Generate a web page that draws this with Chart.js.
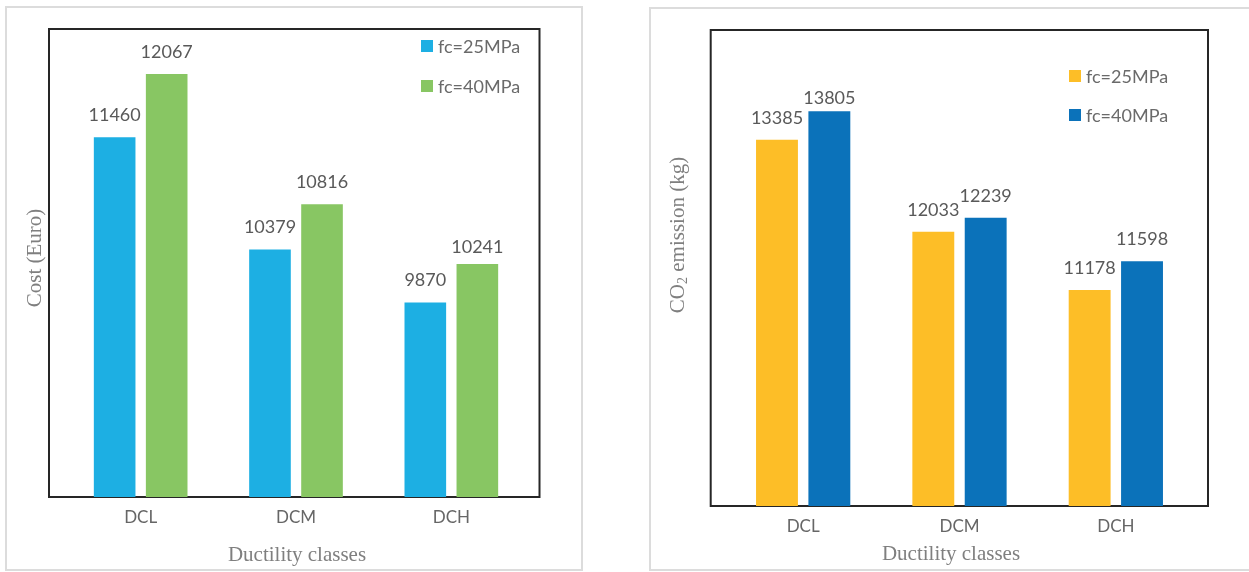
<!DOCTYPE html>
<html>
<head>
<meta charset="utf-8">
<script src="https://cdn.jsdelivr.net/npm/chart.js@4.4.1/dist/chart.umd.min.js"></script>
<style>
  html, body { margin: 0; padding: 0; background: #fff; }
  body { width: 1249px; height: 572px; position: relative; overflow: hidden; }
  .panel { position: absolute; border: 2px solid #dcdcdc; box-sizing: border-box; }
  #panelCost { left: 5px; top: 6px; width: 578px; height: 565px; }
  #panelCo2 { left: 649px; top: 7px; width: 620px; height: 564px; }
  canvas { position: absolute; top: 0; }
  #wrapCost { position: absolute; left: 0; top: 0; width: 620px; height: 572px; }
  #wrapCo2 { position: absolute; left: 630px; top: 0; width: 619px; height: 572px; }
</style>
</head>
<body>
<div class="panel" id="panelCost"></div>
<div class="panel" id="panelCo2"></div>
<div id="wrapCost"><canvas id="chartCost"></canvas></div>
<div id="wrapCo2"><canvas id="chartCo2"></canvas></div>

<script>
// categorias e valores
const classes = ['DCL', 'DCM', 'DCH'];
const seriesNames = ['fc=25MPa', 'fc=40MPa'];

const custo25 = [11460, 10379, 9870];
const custo40 = [12067, 10816, 10241];

const co2_25 = [13385, 12033, 11178];
const co2_40 = [13805, 12239, 11598];

const corTexto = '#595959';
const corTitulo = '#7f7f7f';
const fonteSans = 'Lato, "Open Sans", sans-serif';
const fonteSerif = '"Liberation Serif", "Times New Roman", serif';

// moldura preta do plot, um pouco maior que a área das categorias
const molduraPlugin = {
    id: 'moldura',
    beforeDatasetsDraw(chart, args, opts) {
        const a = chart.chartArea;
        const ctx = chart.ctx;
        ctx.save();
        ctx.strokeStyle = '#262626';
        ctx.lineWidth = 2;
        ctx.strokeRect(a.left - opts.esq, opts.topo, (a.right + opts.dir) - (a.left - opts.esq), a.bottom - opts.topo);
        ctx.restore();
    }
};

// rótulos de valor acima das barras (alguns ficam mais perto da barra)
const rotulosPlugin = {
    id: 'rotulos',
    afterDatasetsDraw(chart, args, opts) {
        const ctx = chart.ctx;
        const ajuste = opts.ajuste || {};
        ctx.save();
        ctx.font = '18px ' + fonteSans;
        ctx.fillStyle = corTexto;
        ctx.textAlign = 'center';
        ctx.textBaseline = 'middle';
        chart.data.datasets.forEach((ds, i) => {
            chart.getDatasetMeta(i).data.forEach((bar, j) => {
                const dy = 22 - (ajuste[i + '-' + j] || 0);
                ctx.fillText(String(ds.data[j]), bar.x, bar.y - dy);
            });
        });
        ctx.restore();
    }
};

// legenda dentro do plot + títulos dos eixos
const legendaPlugin = {
    id: 'legendaTitulos',
    afterDraw(chart, args, opts) {
        const ctx = chart.ctx;
        ctx.save();
        ctx.font = '18px ' + fonteSans;
        ctx.textBaseline = 'middle';
        ctx.textAlign = 'left';
        chart.data.datasets.forEach((ds, i) => {
            const y = opts.legY + i * opts.legPasso;
            ctx.fillStyle = ds.backgroundColor;
            ctx.fillRect(opts.legX, y - 6, 12, 12);
            ctx.fillStyle = '#6a6a6a';
            ctx.fillText(ds.label, opts.legX + 17, y + 1);
        });

        ctx.fillStyle = corTitulo;
        ctx.font = '21px ' + fonteSerif;
        ctx.textAlign = 'center';
        ctx.fillText(opts.tituloX, opts.xTitX, opts.xTitY);

        // título vertical, com subscrito opcional
        ctx.translate(opts.yTitX, opts.yTitY);
        ctx.rotate(-Math.PI / 2);
        const partes = opts.tituloY;
        let total = 0;
        partes.forEach(p => {
            ctx.font = (p.sub ? '14px ' : '21px ') + fonteSerif;
            total += ctx.measureText(p.t).width;
        });
        let x = -total / 2;
        ctx.textAlign = 'left';
        partes.forEach(p => {
            ctx.font = (p.sub ? '14px ' : '21px ') + fonteSerif;
            ctx.fillText(p.t, x, p.sub ? 5 : 0);
            x += ctx.measureText(p.t).width;
        });
        ctx.restore();
    }
};

function montarGrafico(id, valores, cores, cfg) {
    return new Chart(document.getElementById(id), {
        type: 'bar',
        data: {
            labels: classes,
            datasets: valores.map((v, i) => ({
                label: seriesNames[i],
                data: v,
                backgroundColor: cores[i],
                borderWidth: 0,
                categoryPercentage: 0.67,
                barPercentage: 0.8
            }))
        },
        options: {
            responsive: true,
            maintainAspectRatio: false,
            animation: false,
            layout: { padding: { left: cfg.padEsq, right: cfg.padDir, top: cfg.topo, bottom: 0 } },
            plugins: {
                legend: { display: false },
                tooltip: { enabled: false },
                moldura: { esq: cfg.moldEsq, dir: cfg.moldDir, topo: cfg.topo },
                rotulos: { ajuste: cfg.ajuste },
                legendaTitulos: cfg.textos
            },
            scales: {
                x: {
                    grid: { display: false, drawTicks: false },
                    border: { display: false },
                    ticks: { color: '#666666', font: { family: fonteSans, size: 17 }, padding: 10 },
                    afterFit: (scale) => { scale.height = cfg.alturaX; }
                },
                y: { display: false, min: cfg.min, max: cfg.max }
            }
        },
        plugins: [molduraPlugin, rotulosPlugin, legendaPlugin]
    });
}

montarGrafico('chartCost', [custo25, custo40], ['#1DAFE3', '#88C663'], {
    padEsq: 63, padDir: 91, topo: 29, alturaX: 75,
    moldEsq: 14, moldDir: 10.5,
    min: 8000, max: 12500,
    ajuste: { '1-2': 5 },
    textos: {
        legX: 421, legY: 46, legPasso: 40,
        tituloX: 'Ductility classes', xTitX: 297, xTitY: 555,
        tituloY: [{ t: 'Cost (Euro)' }], yTitX: 35, yTitY: 258
    }
});

montarGrafico('chartCo2', [co2_25, co2_40], ['#FDBE27', '#0B72BA'], {
    padEsq: 95, padDir: 55, topo: 30, alturaX: 66,
    moldEsq: 14.3, moldDir: 14,
    min: 8000, max: 15000,
    ajuste: { '1-0': 9 },
    textos: {
        legX: 439, legY: 76, legPasso: 39,
        tituloX: 'Ductility classes', xTitX: 321, xTitY: 554,
        tituloY: [{ t: 'CO' }, { t: '2', sub: true }, { t: ' emission (kg)' }], yTitX: 48, yTitY: 235
    }
});
</script>
</body>
</html>
